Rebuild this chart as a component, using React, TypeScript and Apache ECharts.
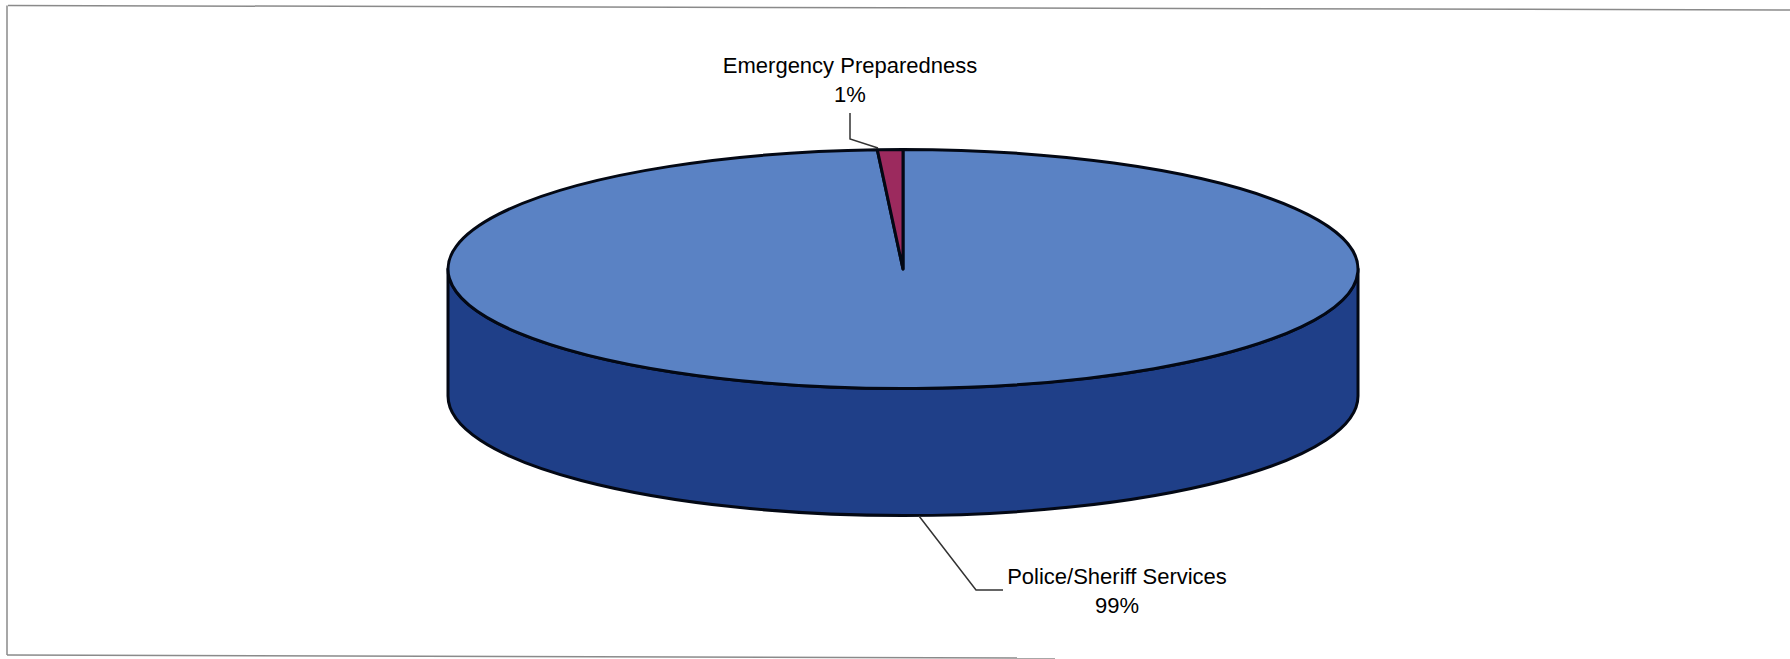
import React, { useEffect, useRef } from "react";
import * as echarts from "echarts";

const categories = ["Police/Sheriff Services", "Emergency Preparedness"];
const shares = [99.1, 0.9];
const sliceColors = ["#5a82c4", "#9c2a5e"];
const wallColor = "#1f3f88";

const CX = 903;
const CY = 269;
const RX = 455;
const RY = 119.5;
const DEPTH = 127;

const total = shares.reduce((a: number, b: number) => a + b, 0);

function pt(deg: number, dy = 0): [number, number] {
  const r = (deg * Math.PI) / 180;
  return [CX + RX * Math.sin(r), CY + dy - RY * Math.cos(r)];
}

function topPath(a0: number, a1: number): string {
  const [x0, y0] = pt(a0);
  const [x1, y1] = pt(a1);
  const large = a1 - a0 > 180 ? 1 : 0;
  return `M${CX} ${CY}L${x0} ${y0}A${RX} ${RY} 0 ${large} 1 ${x1} ${y1}Z`;
}

function wallPath(a0: number, a1: number): string | null {
  const s = Math.max(a0, 90);
  const e = Math.min(a1, 270);
  if (e <= s) return null;
  const [x0, y0] = pt(s);
  const [x1, y1] = pt(e);
  const [x2, y2] = pt(e, DEPTH);
  const [x3, y3] = pt(s, DEPTH);
  return `M${x0} ${y0}A${RX} ${RY} 0 0 1 ${x1} ${y1}L${x2} ${y2}A${RX} ${RY} 0 0 0 ${x3} ${y3}Z`;
}

const labelSpots = [
  { x: 1117, y: 591, leader: [[919, 516], [976, 590], [1003, 590]] },
  { x: 850, y: 80, leader: [[850, 113], [850, 139], [878, 148]] },
];

export default function App() {
  const ref = useRef<HTMLDivElement>(null);

  useEffect(() => {
    document.body.style.margin = "0";
    document.body.style.background = "#ffffff";
    const chart = echarts.init(ref.current!, undefined, { renderer: "svg" });

    const renderItem = (params: any, api: any) => {
      const i = params.dataIndex;
      const value = api.value(0) as number;
      const before = shares.slice(0, i).reduce((a: number, b: number) => a + b, 0);
      const a0 = (before / total) * 360;
      const a1 = ((before + value) / total) * 360;
      const children: any[] = [];
      const wall = wallPath(a0, a1);
      if (wall) {
        children.push({
          type: "path",
          shape: { pathData: wall },
          style: { fill: wallColor, stroke: "#030814", lineWidth: 3, lineJoin: "round" },
        });
      }
      children.push({
        type: "path",
        shape: { pathData: topPath(a0, a1) },
        style: { fill: sliceColors[i], stroke: "#030814", lineWidth: 3, lineJoin: "round" },
      });
      const spot = labelSpots[i];
      children.push({
        type: "polyline",
        shape: { points: spot.leader },
        style: { fill: "none", stroke: "#333333", lineWidth: 1.5 },
      });
      children.push({
        type: "text",
        x: spot.x,
        y: spot.y,
        style: {
          text: `${categories[i]}\n${Math.round((value / total) * 100)}%`,
          align: "center",
          verticalAlign: "middle",
          fontFamily: "Liberation Sans",
          fontSize: 22,
          lineHeight: 29,
          fill: "#000000",
        },
      });
      return { type: "group", children };
    };

    chart.setOption({
      animation: false,
      backgroundColor: "#ffffff",
      graphic: [
        { type: "line", shape: { x1: 8, y1: 5.5, x2: 1790, y2: 10 }, style: { stroke: "#8a8a8a", lineWidth: 1.5 } },
        { type: "line", shape: { x1: 7, y1: 5.5, x2: 7, y2: 655 }, style: { stroke: "#8a8a8a", lineWidth: 1.5 } },
        { type: "line", shape: { x1: 7, y1: 655, x2: 1055, y2: 658 }, style: { stroke: "#8a8a8a", lineWidth: 1.5 } },
      ],
      series: [
        {
          type: "custom",
          coordinateSystem: "none",
          renderItem,
          data: categories.map((name, i) => ({ name, value: [shares[i]] })),
        },
      ],
    });
    return () => chart.dispose();
  }, []);

  return <div ref={ref} style={{ position: "absolute", left: 0, top: 0, width: 1790, height: 659 }} />;
}
